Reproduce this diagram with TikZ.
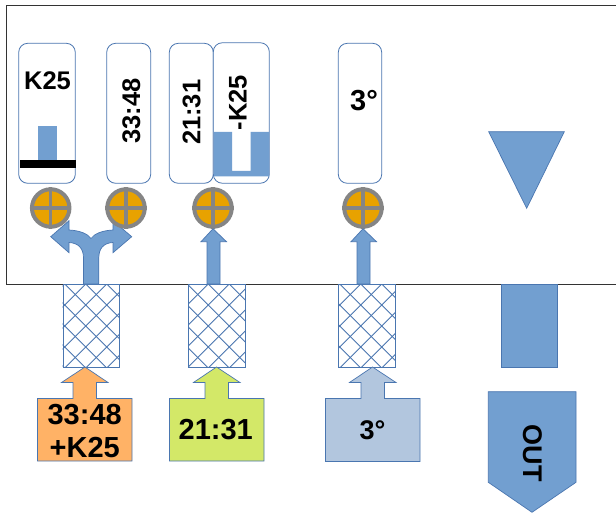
\documentclass[tikz,border=0pt]{standalone}
\usepackage{fontspec}
\setmainfont{Liberation Sans}
\definecolor{bl}{HTML}{729FD0}
\definecolor{edge}{HTML}{4A76B0}
\definecolor{cir}{HTML}{E8A200}
\definecolor{gr}{HTML}{858585}
\definecolor{inA}{RGB}{255,178,102}
\definecolor{inB}{RGB}{211,232,104}
\definecolor{inC}{RGB}{178,198,222}
\tikzset{
 x=1pt,y=-1pt,
 lab/.style={font=\bfseries\fontsize{25.5}{30}\selectfont,inner sep=0pt,align=center},
 big/.style={font=\bfseries\fontsize{29}{33}\selectfont,inner sep=0pt,align=center},
 pill/.style={draw=edge,line width=0.8pt,fill=white,rounded corners=9pt,inner sep=0pt},
 flat/.style={fill=bl,draw=edge,line width=0.7pt},
 hatchbox/.style={draw=edge,line width=0.9pt,inner sep=0pt,anchor=north west,minimum width=56.5pt,minimum height=82.7pt},
 hatchline/.style={draw=edge,line width=0.9pt},
 inbox/.style={draw=edge,line width=0.7pt},
}
\newcommand{\xcirc}[2]{%
 \node[circle,draw=gr,line width=4pt,fill=cir,minimum size=37.5pt,inner sep=0pt] (#1) at (#2) {};
 \draw[gr,line width=3.2pt] (#1.north)--(#1.south) (#1.west)--(#1.east);}
\newcommand{\mesh}[3]{%
 \begin{scope}
 \clip (#2,284) rectangle ++(56.5,82.7);
 \foreach \k in {-6,...,6} {
   \draw[hatchline] (#3+\k*21,284) -- ++(120,120);
   \draw[hatchline] (#3+\k*21,284) -- ++(-120,120);
 }
 \end{scope}
 \node[hatchbox] (#1) at (#2,284) {};}
\begin{document}
\begin{tikzpicture}
\useasboundingbox (0,0) rectangle (616,513);
\fill[white] (0,0) rectangle (616,513);
\draw[black!80!white,line width=1pt] (616,5.5) -- (6.7,5.5) -- (6.7,284) -- (616,284);
% pills
\node[pill,minimum width=56.6pt,minimum height=140pt] (p1) at (47,113.3) {};
\node[lab] (k) at (47.5,80.7) {K25};
\fill[bl] (38,126) rectangle (56.5,161);
\fill[black] (19.5,160) rectangle (75.5,168);
\node[pill,minimum width=44pt,minimum height=140pt] (p2) at (128.7,113.3) {};
\node[lab,rotate=90] at (131.3,111.2) {33:48};
\node[pill,minimum width=44pt,minimum height=140pt] (p3) at (191.3,113.3) {};
\node[lab,rotate=90] at (191.7,112.3) {21:31};
\node[pill,minimum width=56pt,minimum height=140.5pt] (p5) at (241.3,113) {};
\fill[bl] (214,132) rectangle (232,171) (250.5,132) rectangle (269,171) (214,171) rectangle (269,176.5);
\node[lab,rotate=90] at (237.8,102.8) {-K25};
\node[pill,minimum width=43.4pt,minimum height=140pt] (p4) at (360,113.3) {};
\node[big] at (364,100.8) {3°};
% triangle
\draw[flat] (488.7,131.7) -- (564.3,131.7) -- (526.7,208.3) -- cycle;
% meshes
\mesh{m1}{62.7}{85.7}
\mesh{m2}{188.3}{208.3}
\mesh{m3}{338.3}{360.7}
\node[flat,minimum width=56pt,minimum height=82.7pt,inner sep=0pt,anchor=north west] (m4) at (500.7,284) {};
% fork
\draw[flat] (83.5,284) -- (83.5,258)
  .. controls (83.5,249) and (79,243) .. (69,242.5) -- (69,252.7) -- (50.7,236.7) -- (69,220.7) -- (69,230)
  .. controls (80,230.5) and (88,234) .. (91,238.5)
  .. controls (94,234) and (102,230.5) .. (113,230) -- (113,220.7) -- (131.7,236.7) -- (113,252.7) -- (113,242.5)
  .. controls (103,243) and (98.8,249) .. (98.8,258) -- (98.8,284) -- cycle;
% circles
\xcirc{c1}{50.7,208}
\xcirc{c2}{126,208}
\xcirc{c3}{213,208}
\xcirc{c4}{363,208}
% up arrows
\draw[flat] (207,284) -- (207,241.7) -- (201,241.7) -- (c3.south) -- (226.5,241.7) -- (220,241.7) -- (220,284) -- cycle;
\draw[flat] (357,284) -- (357,241.7) -- (351,241.7) -- (c4.south) -- (376.5,241.7) -- (370,241.7) -- (370,284) -- cycle;
% inputs
\draw[inbox,fill=inA] (37.5,461) -- (37.5,398.5) -- (73,398.5) -- (73,382.5) -- (61.5,382.5) -- (85,367) -- (108,382.5) -- (96.5,382.5) -- (96.5,398.5) -- (132,398.5) -- (132,461) -- cycle;
\node[big] at (84.7,431) {33:48\\+K25};
\draw[inbox,fill=inB] (169.5,461) -- (169.5,398.5) -- (205,398.5) -- (205,382.5) -- (193.5,382.5) -- (216.5,367) -- (240,382.5) -- (228.5,382.5) -- (228.5,398.5) -- (264,398.5) -- (264,461) -- cycle;
\node[big] at (215.8,430) {21:31};
\draw[inbox,fill=inC] (325.5,461.5) -- (325.5,398.5) -- (361,398.5) -- (361,382.5) -- (349.5,382.5) -- (372.5,367) -- (396,382.5) -- (384.5,382.5) -- (384.5,398.5) -- (420,398.5) -- (420,461.5) -- cycle;
\node[font=\bfseries\fontsize{27}{30}\selectfont,inner sep=0pt] at (372.5,430) {3°};
% out
\draw[flat] (488.3,391.7) -- (576,391.7) -- (576,482.3) -- (532,512.3) -- (488.3,482.3) -- cycle;
\node[font=\bfseries\fontsize{27}{30}\selectfont,inner sep=0pt,rotate=-90] at (532.8,453) {OUT};
\end{tikzpicture}
\end{document}
